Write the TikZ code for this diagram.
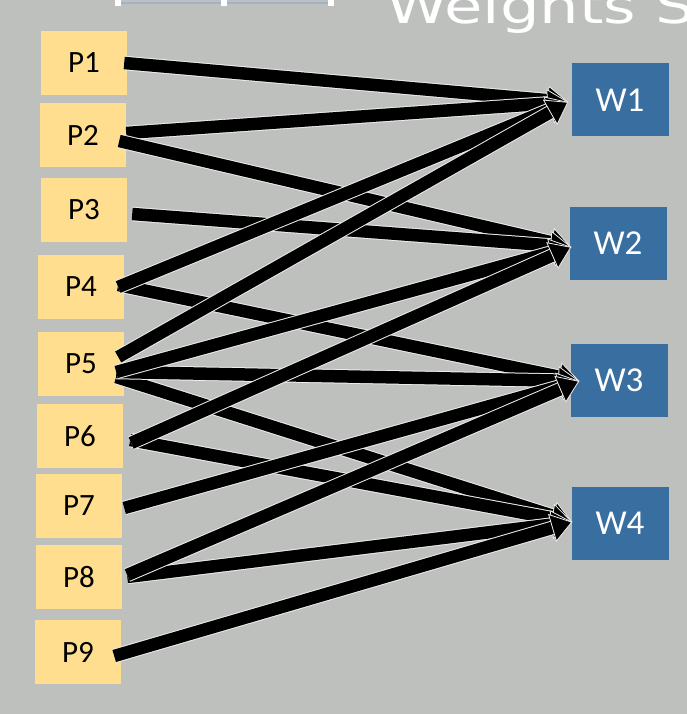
\documentclass[tikz,border=0pt]{standalone}
\usepackage{fontspec}
\setmainfont{Carlito}
\newfontfamily\titlefont{DejaVu Sans}
\usetikzlibrary{arrows.meta,calc}
\definecolor{bgc}{RGB}{190,192,189}
\definecolor{pfill}{RGB}{255,223,143}
\definecolor{wfill}{RGB}{57,110,160}
\definecolor{selc}{RGB}{160,178,200}
\tikzset{
  pbox/.style={fill=pfill, minimum width=86pt, minimum height=64pt, inner sep=0pt,
    font=\fontsize{31}{34}\selectfont, text=black},
  wbox/.style={fill=wfill, minimum width=97pt, minimum height=73pt, inner sep=0pt,
    font=\fontsize{35}{38}\selectfont, text=white},
  arr/.style={line width=12.5pt, draw=black,
    -{Triangle[length=21pt,width=29pt,fill=black,color=white!85!gray,line width=0.8pt]},
    preaction={draw=white!85!gray, line width=14.5pt, -, shorten >=17pt}},
}
\begin{document}
\begin{tikzpicture}[x=1pt,y=-1pt]
\useasboundingbox (0,0) rectangle (687,714);
\fill[bgc] (0,0) rectangle (687,714);
\begin{scope}
\clip (0,0) rectangle (687,714);
% partially visible selection box and title
\draw[selc, line width=2.5pt] (118,-20) -- (118,3) -- (331,3) -- (331,-20);
\foreach \hx in {118,224,331} \fill[white] (\hx-3,0) rectangle (\hx+3,6);
\node[anchor=base west, inner sep=0pt, text=white, font=\titlefont\fontsize{48}{52}\selectfont] (title) at (386,24) {\scalebox{1.3}[1]{Weights S}};
\end{scope}
% P nodes
\node[pbox] (P1) at (84,63) {P1};
\node[pbox] (P2) at (83,135) {P2};
\node[pbox] (P3) at (84,210) {P3};
\node[pbox] (P4) at (81,287) {P4};
\node[pbox] (P5) at (81,364) {P5};
\node[pbox] (P6) at (80,436) {P6};
\node[pbox] (P7) at (79,506) {P7};
\node[pbox] (P8) at (79,577) {P8};
\node[pbox] (P9) at (78,652) {P9};
% W nodes
\node[wbox] (W1) at (620,100) {W1};
\node[wbox] (W2) at (618,243) {W2};
\node[wbox] (W3) at (619,380) {W3};
\node[wbox] (W4) at (620,523) {W4};
% arrow tip points
\coordinate (t1) at ($(W1.west)+(-3,2)$);
\coordinate (t2) at ($(W2.west)+(2,4)$);
\coordinate (t3) at ($(W3.west)+(9,1)$);
\coordinate (t4) at ($(W4.west)+(1,-1)$);
% arrows
\draw[arr] ($(P1.east)+(-3,0)$) -- (t1);
\draw[arr] ($(P2.east)+(0,-2)$) -- (t1);
\draw[arr] ($(P2.east)+(-7,6)$) -- (t2);
\draw[arr] ($(P3.east)+(5,4)$) -- (t2);
\draw[arr] ($(P4.east)+(-6,-2)$) -- (t3);
\draw[arr] ($(P4.east)+(-6,0)$) -- (t1);
\draw[arr] ($(P5.east)+(-8,13)$) -- (t4);
\draw[arr] ($(P5.east)+(-8,8)$) -- (t3);
\draw[arr] ($(P5.east)+(-8,8)$) -- (t2);
\draw[arr] ($(P5.east)+(-6,-7)$) -- (t1);
\draw[arr] ($(P6.east)+(7,4)$) -- (t4);
\draw[arr] ($(P6.east)+(8,7)$) -- (t2);
\draw[arr] ($(P7.east)+(2,2)$) -- (t3);
\draw[arr] ($(P8.east)+(5,0)$) -- (t4);
\draw[arr] ($(P8.east)+(5,-2)$) -- (t3);
\draw[arr] ($(P9.east)+(-7,4)$) -- (t4);
\end{tikzpicture}
\end{document}
